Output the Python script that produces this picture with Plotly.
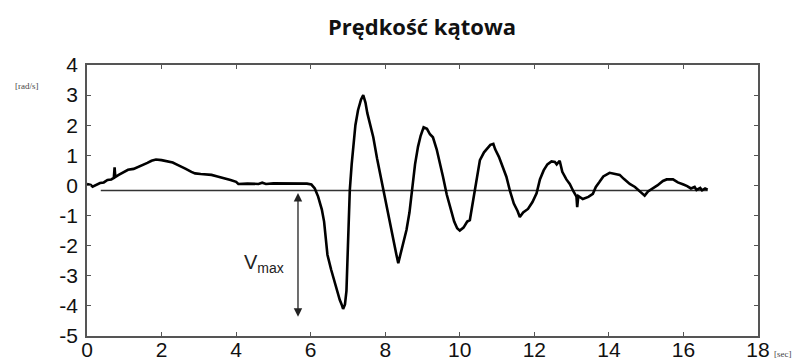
import plotly.graph_objects as go

# angular velocity signal [rad/s] vs time [s]
time_s = [0.0, 0.1, 0.15, 0.25, 0.35, 0.45, 0.55, 0.65, 0.72, 0.74, 0.76, 0.85, 1.0, 1.1, 1.25, 1.38, 1.5, 1.62,
          1.73, 1.85, 2.0, 2.15, 2.3, 2.4, 2.55, 2.65, 2.8, 2.9, 3.05, 3.2, 3.34, 3.5, 3.7, 3.85, 4.0, 4.06,
          4.3, 4.6, 4.7, 4.8, 5.0, 5.3, 5.6, 5.9, 6.02, 6.11, 6.2, 6.3, 6.36, 6.4, 6.45, 6.55, 6.6, 6.7,
          6.78, 6.83, 6.87, 6.92, 6.96, 7.0, 7.05, 7.1, 7.15, 7.2, 7.27, 7.35, 7.41, 7.47, 7.52, 7.59, 7.68,
          7.78, 7.86, 7.95, 8.05, 8.12, 8.22, 8.3, 8.35, 8.42, 8.5, 8.57, 8.65, 8.75, 8.8, 8.88, 8.95, 9.03,
          9.12, 9.2, 9.28, 9.38, 9.45, 9.55, 9.65, 9.75, 9.85, 9.93, 10.0, 10.1, 10.2, 10.27, 10.35, 10.45,
          10.54, 10.65, 10.75, 10.82, 10.9, 10.95, 11.05, 11.15, 11.25, 11.35, 11.45, 11.55, 11.61, 11.7,
          11.83, 11.95, 12.06, 12.15, 12.25, 12.35, 12.46, 12.55, 12.6, 12.68, 12.75, 12.86, 12.95, 13.05,
          13.13, 13.15, 13.18, 13.3, 13.45, 13.57, 13.65, 13.75, 13.85, 14.02, 14.15, 14.29, 14.4, 14.56,
          14.7, 14.85, 14.96, 15.05, 15.18, 15.3, 15.45, 15.55, 15.72, 15.85, 16.0, 16.1, 16.2, 16.3, 16.35,
          16.45, 16.5, 16.58, 16.65]
omega = [0.05, 0.02, -0.04, 0.03, 0.08, 0.1, 0.18, 0.2, 0.25, 0.6, 0.28, 0.35, 0.45, 0.52, 0.55, 0.62, 0.66, 0.75,
         0.82, 0.86, 0.84, 0.8, 0.76, 0.7, 0.62, 0.55, 0.45, 0.4, 0.38, 0.36, 0.35, 0.3, 0.24, 0.18, 0.12, 0.05,
         0.06, 0.05, 0.09, 0.05, 0.07, 0.06, 0.07, 0.06, 0.03, -0.1, -0.37, -0.8, -1.2, -1.8, -2.3, -2.8, -3.03, -3.45,
         -3.8, -3.95, -4.1, -3.95, -3.5, -2.0, -0.15, 0.7, 1.4, 2.0, 2.5, 2.85, 3.0, 2.75, 2.4, 2.06, 1.6,
         0.9, 0.4, -0.2, -0.8, -1.26, -1.9, -2.3, -2.58, -2.2, -1.8, -1.48, -0.9, 0.18, 0.7, 1.29, 1.65, 1.93,
         1.88, 1.7, 1.6, 1.2, 0.85, 0.29, -0.3, -0.8, -1.2, -1.42, -1.5, -1.4, -1.2, -1.15, -0.6, 0.1,
         0.84, 1.1, 1.25, 1.35, 1.38, 1.2, 0.95, 0.6, 0.29, -0.2, -0.6, -0.85, -1.05, -0.9,
         -0.78, -0.55, -0.26, 0.2, 0.5, 0.7, 0.8, 0.78, 0.7, 0.82, 0.45, 0.2, 0.05, -0.2,
         -0.37, -0.72, -0.35, -0.45, -0.38, -0.28, -0.05, 0.12, 0.3, 0.42, 0.38, 0.35, 0.22, 0.05,
         -0.05, -0.2, -0.34, -0.2, -0.1, 0.0, 0.15, 0.2, 0.2, 0.1, 0.03, -0.02, -0.1, -0.05, -0.15,
         -0.08, -0.16, -0.1, -0.14]

# reference (baseline) line
baseline_x = [0.37, 16.65]
baseline_y = [-0.17, -0.17]

# Vmax arrow
vmax_x = 5.66
vmax_top = -0.2
vmax_bottom = -4.36

x_ticks = [0, 2, 4, 6, 8, 10, 12, 14, 16, 18]
y_ticks = [4, 3, 2, 1, 0, -1, -2, -3, -4, -5]

fig = go.Figure()
fig.add_trace(go.Scatter(x=baseline_x, y=baseline_y, mode="lines",
                         line=dict(color="#333333", width=1.5), hoverinfo="skip"))
fig.add_trace(go.Scatter(x=time_s, y=omega, mode="lines",
                         line=dict(color="black", width=2.6)))

fig.add_annotation(x=vmax_x, y=vmax_bottom, ax=vmax_x, ay=vmax_top, xref="x", yref="y",
                   axref="x", ayref="y", text="", showarrow=True, arrowhead=2, startarrowhead=2,
                   arrowside="end+start", arrowsize=1.3, arrowwidth=1.3, arrowcolor="#222222")
fig.add_annotation(x=4.75, y=-2.6, xref="x", yref="y", showarrow=False,
                   text="V<sub>max</sub>", font=dict(family="Liberation Sans, Arial", size=20, color="#222222"))
fig.add_annotation(x=0.0, y=1.0, xref="paper", yref="paper", xanchor="center", yanchor="middle",
                   xshift=-60, yshift=-21, showarrow=False,
                   text="[rad/s]", font=dict(family="Liberation Serif", size=9, color="#444444"))
fig.add_annotation(x=1.0, y=0.0, xref="paper", yref="paper", xanchor="center", yanchor="middle",
                   xshift=25, yshift=-18, showarrow=False,
                   text="[sec]", font=dict(family="Liberation Serif", size=9, color="#444444"))

axis_common = dict(showline=True, linecolor="#555555", linewidth=1.5, mirror="ticks", ticks="inside",
                   ticklen=4, tickcolor="#555555", showgrid=False, zeroline=False, automargin=False)

# the page body adds an 8px offset; margins compensate so the plot lands where the reference has it
fig.update_layout(
    width=800, height=361,
    margin=dict(l=79, r=50, t=57, b=33),
    paper_bgcolor="white", plot_bgcolor="white",
    showlegend=False,
    title=dict(text="<b>Prędkość kątowa</b>", x=0.5175, xanchor="center", y=0.947, yanchor="middle",
               font=dict(family="Open Sans", size=22, color="#111111")),
    xaxis=dict(range=[0, 18], tickvals=x_ticks, ticktext=[str(v) for v in x_ticks], ticklabelstandoff=-6,
               tickfont=dict(family="Liberation Sans, Arial", size=21, color="#111111"), **axis_common),
    yaxis=dict(range=[-5, 4], tickvals=y_ticks, ticktext=[str(v) for v in y_ticks], ticklabelstandoff=3,
               tickfont=dict(family="Liberation Sans, Arial", size=21, color="#111111"), **axis_common),
)

fig.write_html("out.html")
